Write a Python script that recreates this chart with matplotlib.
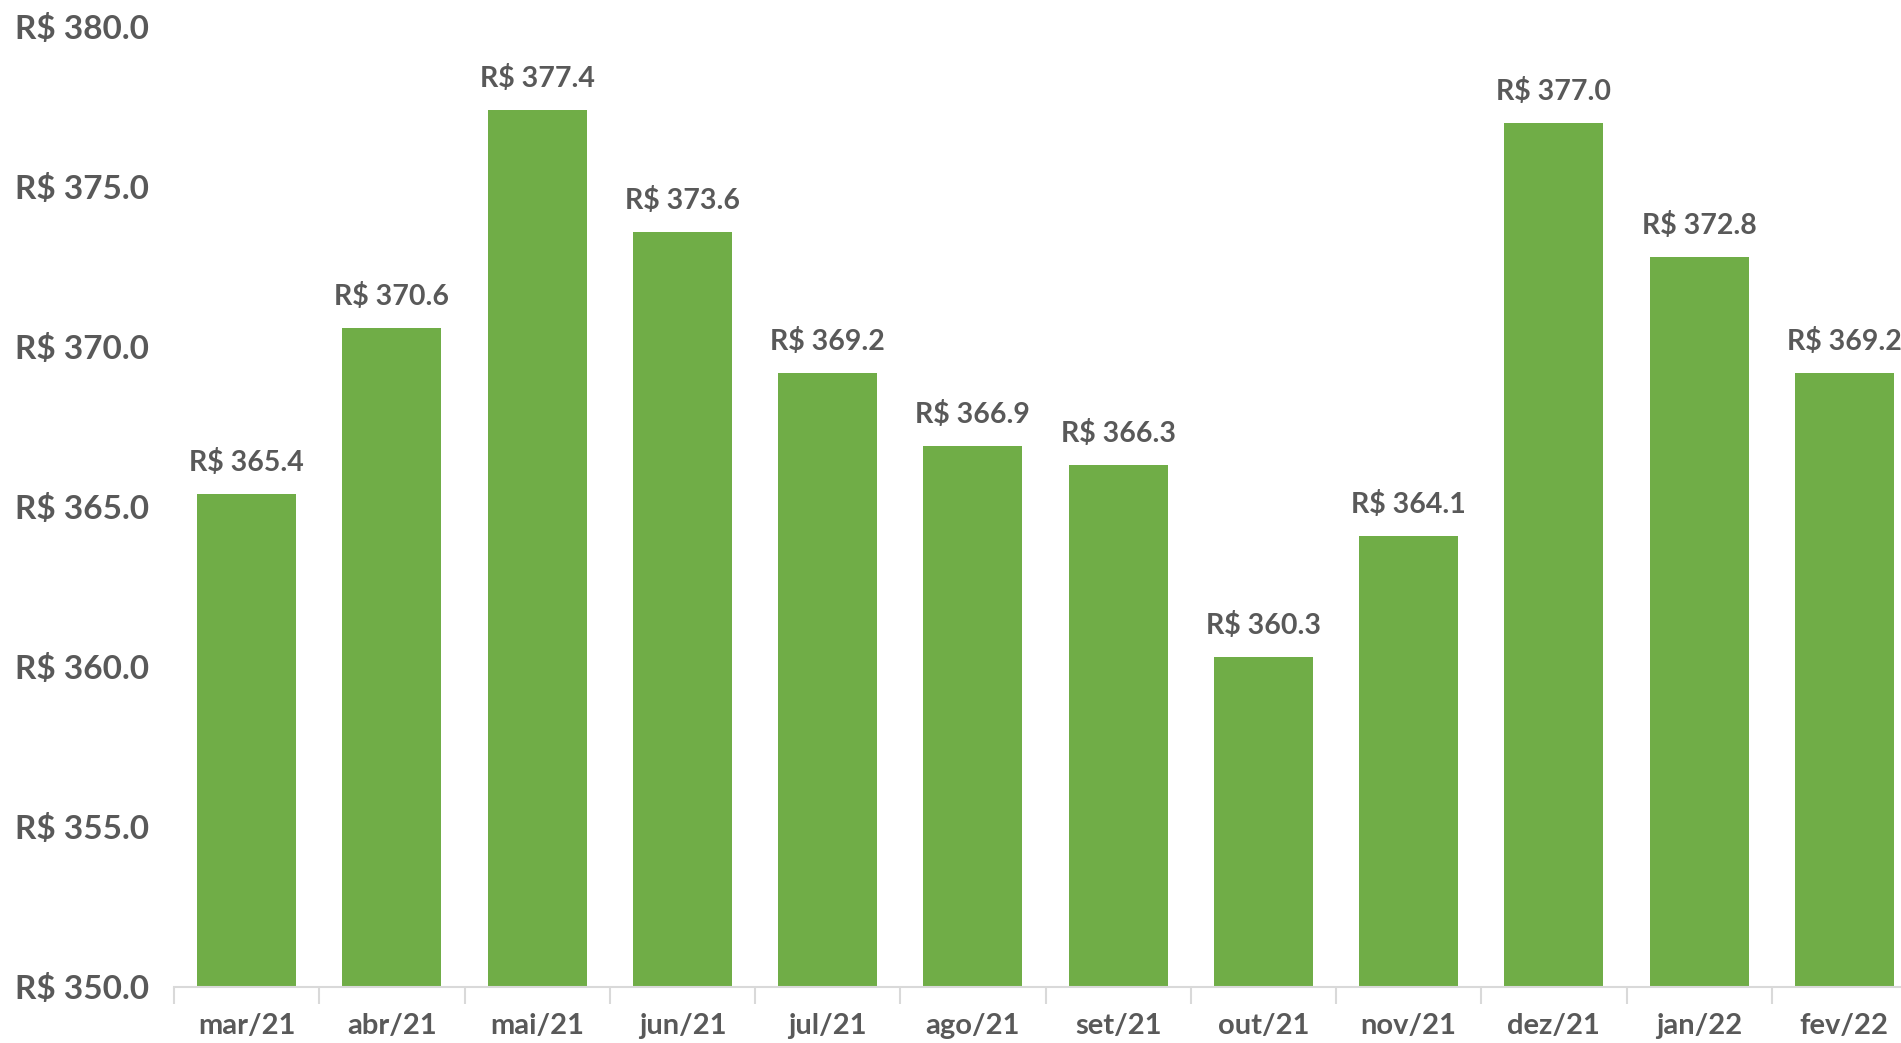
import matplotlib
matplotlib.use("Agg")
import matplotlib.pyplot as plt
import numpy as np
from matplotlib.ticker import FuncFormatter

# dados
meses = ["mar/21", "abr/21", "mai/21", "jun/21", "jul/21", "ago/21",
         "set/21", "out/21", "nov/21", "dez/21", "jan/22", "fev/22"]
valores = [365.4, 370.6, 377.4, 373.6, 369.2, 366.9,
           366.3, 360.3, 364.1, 377.0, 372.8, 369.2]

verde = "#70AD47"
cinza_txt = "#595959"
cinza_eixo = "#D9D9D9"

plt.rcParams["font.family"] = ["Lato", "DejaVu Sans"]
plt.rcParams["font.weight"] = "bold"

fig = plt.figure(figsize=(19.01, 10.43), dpi=100)
# o eixo passa da borda direita, como no original (cortado)
ax = fig.add_axes([174 / 1901, 56 / 1043, 1743 / 1901, 960 / 1043])

x = np.arange(len(meses))
ax.bar(x, valores, width=0.68, color=verde, bottom=0)

for xi, v in zip(x, valores):
    ax.annotate(f"R$ {v:.1f}", (xi, v), xytext=(0, 13), textcoords="offset points",
                ha="center", va="bottom", fontsize=20.5, fontweight="bold", color=cinza_txt)

ax.set_ylim(350, 380)
ax.set_xlim(-0.5, len(meses) - 0.5)
ax.set_yticks(np.arange(350, 381, 5))
ax.yaxis.set_major_formatter(FuncFormatter(lambda v, p: f"R$ {v:.1f}"))
ax.tick_params(axis="y", length=0, labelsize=24, labelcolor=cinza_txt, pad=18)

ax.set_xticks(x)
ax.set_xticklabels(meses)
ax.set_xticks(np.arange(-0.5, len(meses), 1), minor=True)
ax.tick_params(axis="x", which="major", length=0, labelsize=21, labelcolor=cinza_txt, pad=19)
ax.tick_params(axis="x", which="minor", length=12, width=1.5, color=cinza_eixo)

for s in ["top", "right", "left"]:
    ax.spines[s].set_visible(False)
ax.spines["bottom"].set_color(cinza_eixo)
ax.spines["bottom"].set_linewidth(1.5)

fig.savefig("out.png", dpi=100)
